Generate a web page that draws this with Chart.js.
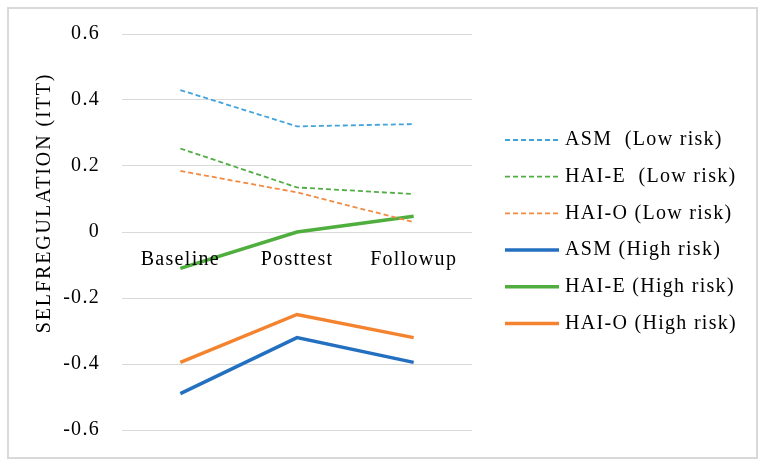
<!DOCTYPE html>
<html>
<head>
<meta charset="utf-8">
<script src="https://cdn.jsdelivr.net/npm/chart.js@4/dist/chart.umd.min.js"></script>
<style>
body{margin:0;background:#fff;}
#wrap{position:absolute;left:0;top:0;width:763px;height:464px;}
#box{position:absolute;left:7px;top:7px;width:747px;height:448px;border:2px solid #d9d9d9;}
</style>
</head>
<body>
<div id="wrap">
<div id="box"></div>
<canvas id="c" width="763" height="464"></canvas>
</div>
<script>
var categories = ['Baseline','Posttest','Followup'];
var yTicks = [-0.6,-0.4,-0.2,0,0.2,0.4,0.6];
var yTitle = 'SELFREGULATION (ITT)';
var asmLow = [0.43, 0.32, 0.327];
var haiELow = [0.253, 0.135, 0.115];
var haiOLow = [0.185, 0.12, 0.03];
var asmHigh = [-0.49, -0.32, -0.395];
var haiEHigh = [-0.11, 0.0, 0.048];
var haiOHigh = [-0.395, -0.25, -0.32];
var seriesNames = ['ASM  (Low risk)','HAI-E  (Low risk)','HAI-O (Low risk)','ASM (High risk)','HAI-E (High risk)','HAI-O (High risk)'];

var font = '"Liberation Serif","Times New Roman",serif';

function ds(label, data, color, dashed){
	return {
		label: label,
		data: data,
		borderColor: color,
		backgroundColor: color,
		borderWidth: dashed ? 1.8 : 3.5,
		borderDash: dashed ? [5,3] : [],
		pointRadius: 0,
		tension: 0,
		fill: false
	};
}

// the picture's text is a bit wider than plain Times
var spacing = {
	id: 'spacing',
	beforeUpdate: function(chart){ chart.ctx.letterSpacing = '1.3px'; },
	beforeDraw: function(chart){ chart.ctx.letterSpacing = '1.3px'; }
};

// category labels sit just under the zero line, like Excel does
var catLabels = {
	id: 'catLabels',
	afterDatasetsDraw: function(chart){
		var ctx = chart.ctx, x = chart.scales.x, y = chart.scales.y;
		var y0 = y.getPixelForValue(0);
		ctx.save();
		ctx.font = '20px ' + font;
		ctx.fillStyle = '#000';
		ctx.textAlign = 'center';
		ctx.textBaseline = 'middle';
		for(var i=0;i<categories.length;++i){
			ctx.fillText(categories[i], x.getPixelForValue(i), y0 + 28);
		}
		// axis title, sits a bit above the middle in the original
		ctx.letterSpacing = '1.9px';
		ctx.translate(45, 203);
		ctx.rotate(-Math.PI/2);
		ctx.fillText(yTitle, 0, 0);
		ctx.restore();
	}
};

// legend on the right, one row per dataset
var sideLegend = {
	id: 'sideLegend',
	afterDraw: function(chart){
		var ctx = chart.ctx;
		ctx.save();
		ctx.font = '20px ' + font;
		ctx.textBaseline = 'middle';
		ctx.fillStyle = '#000';
		chart.data.datasets.forEach(function(d, i){
			var yy = 140 + i*36.7;
			ctx.beginPath();
			ctx.strokeStyle = d.borderColor;
			ctx.lineWidth = d.borderWidth;
			ctx.setLineDash(d.borderDash);
			ctx.moveTo(505, yy);
			ctx.lineTo(559, yy);
			ctx.stroke();
			ctx.setLineDash([]);
			ctx.fillText(d.label, 565, yy);
		});
		ctx.restore();
	}
};

new Chart(document.getElementById('c').getContext('2d'), {
	type: 'line',
	data: {
		labels: categories,
		datasets: [
			ds(seriesNames[0], asmLow, '#41a2dc', true),
			ds(seriesNames[1], haiELow, '#52ad45', true),
			ds(seriesNames[2], haiOLow, '#f28a44', true),
			ds(seriesNames[3], asmHigh, '#2470c0', false),
			ds(seriesNames[4], haiEHigh, '#4fae3e', false),
			ds(seriesNames[5], haiOHigh, '#f48330', false)
		]
	},
	options: {
		responsive: false,
		animation: false,
		layout: {padding: {left: 0, right: 291, top: 31, bottom: 30}},
		plugins: {legend: {display: false}, tooltip: {enabled: false}},
		scales: {
			x: {display: false, offset: true},
			y: {
				min: -0.6, max: 0.6,
				afterFit: function(s){ s.width = 122; },
				afterBuildTicks: function(s){ s.ticks = yTicks.map(function(v){ return {value: v}; }); },
				border: {display: false},
				grid: {color: '#d9d9d9', drawTicks: false, lineWidth: 1},
				ticks: {
					padding: 22,
					color: '#000',
					font: {family: font, size: 20},
					callback: function(v){ return v == 0 ? '0' : v.toFixed(1); }
				}
			}
		}
	},
	plugins: [spacing, catLabels, sideLegend]
});
</script>
</body>
</html>
